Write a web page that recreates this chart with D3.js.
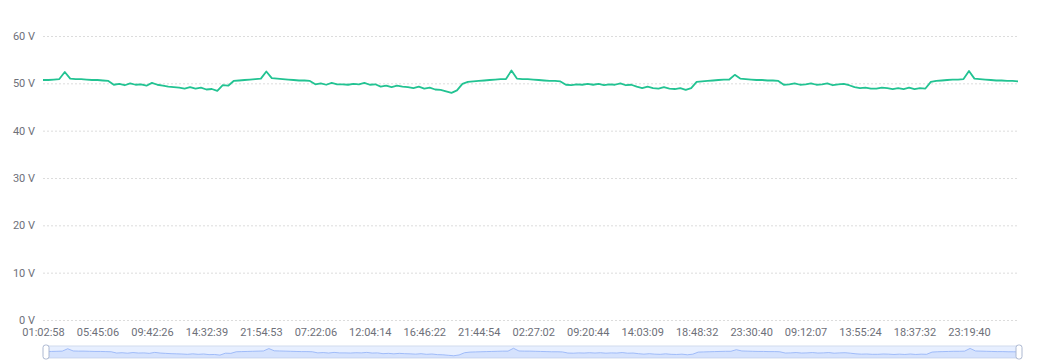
<!DOCTYPE html>
<html>
<head>
<meta charset="utf-8">
<script src="https://cdn.jsdelivr.net/npm/d3@7"></script>
<style>
  html, body { margin: 0; padding: 0; background: #fff; }
  svg { display: block; }
  text { font-family: Roboto, "Liberation Sans", sans-serif; }
</style>
</head>
<body>
<svg id="chart" width="1050" height="364"></svg>
<script>
// Voltage readings (V), one per sample
const voltage = [
  50.7, 50.7, 50.8, 50.9, 52.4, 51.0, 50.9, 50.9, 50.8, 50.7,
  50.7, 50.6, 50.5, 49.7, 49.9, 49.6, 50.0, 49.7, 49.8, 49.5,
  50.1, 49.7, 49.5, 49.3, 49.2, 49.1, 48.9, 49.2, 48.9, 49.1,
  48.7, 48.8, 48.4, 49.6, 49.5, 50.5, 50.6, 50.7, 50.8, 50.9,
  51.0, 52.5, 51.1, 51.0, 50.9, 50.8, 50.7, 50.6, 50.6, 50.5,
  49.8, 50.0, 49.7, 50.1, 49.8, 49.8, 49.7, 49.9, 49.8, 50.1,
  49.7, 49.8, 49.3, 49.5, 49.2, 49.5, 49.3, 49.2, 49.0, 49.3,
  48.9, 49.1, 48.7, 48.6, 48.3, 48.0, 48.5, 49.9, 50.3, 50.4,
  50.5, 50.6, 50.7, 50.8, 50.9, 50.9, 52.7, 51.0, 50.9, 50.9,
  50.8, 50.7, 50.6, 50.5, 50.5, 50.4, 49.7, 49.6, 49.8, 49.7,
  49.9, 49.7, 49.9, 49.6, 49.8, 49.7, 50.0, 49.6, 49.7, 49.3,
  49.0, 49.3, 49.0, 48.9, 49.2, 48.9, 48.8, 49.0, 48.6, 49.0,
  50.3, 50.4, 50.5, 50.6, 50.7, 50.8, 50.8, 51.8, 51.0, 50.9,
  50.8, 50.7, 50.7, 50.6, 50.6, 50.5, 49.7, 49.8, 50.0, 49.7,
  49.8, 50.0, 49.7, 49.8, 50.0, 49.6, 49.8, 49.9, 49.6, 49.2,
  49.0, 49.1, 48.9, 48.9, 49.1, 49.0, 48.8, 49.0, 48.8, 49.1,
  48.8, 49.0, 48.9, 50.3, 50.5, 50.6, 50.7, 50.8, 50.8, 50.9,
  52.6, 51.0, 50.9, 50.8, 50.7, 50.6, 50.6, 50.5, 50.5, 50.4
];

// Time labels shown on the x axis (every 10th sample)
const timeLabels = [
  "01:02:58", "05:45:06", "09:42:26", "14:32:39", "21:54:53", "07:22:06",
  "12:04:14", "16:46:22", "21:44:54", "02:27:02", "09:20:44", "14:03:09",
  "18:48:32", "23:30:40", "09:12:07", "13:55:24", "18:37:32", "23:19:40"
];
const labelStep = 10;

// Y axis ticks (V)
const yTicks = [0, 10, 20, 30, 40, 50, 60];

const svg = d3.select("#chart");
const L = 43, R = 1018, T = 36, B = 320;

const x = d3.scaleLinear().domain([0, voltage.length - 1]).range([L, R]);
const y = d3.scaleLinear().domain([0, 60]).range([B, T]);

const labelColor = "#6e7079";

// grid lines
svg.append("g").selectAll("line").data(yTicks).join("line")
  .attr("x1", L).attr("x2", R)
  .attr("y1", d => y(d) + 0.5).attr("y2", d => y(d) + 0.5)
  .attr("stroke", "#dcdcdc").attr("stroke-width", 1)
  .attr("stroke-dasharray", "2,2");

// y labels
const yAxis = d3.axisLeft(y).tickValues(yTicks).tickFormat(d => d + " V").tickSize(0).tickPadding(8);
const yg = svg.append("g").attr("transform", `translate(${L},0)`).call(yAxis);
yg.select(".domain").remove();
yg.selectAll("text").attr("fill", labelColor).style("font-size", "11px")
  .style("font-family", "Roboto, 'Liberation Sans', sans-serif");

// x labels
const tickIdx = timeLabels.map((_, i) => i * labelStep);
const xAxis = d3.axisBottom(x).tickValues(tickIdx)
  .tickFormat(d => timeLabels[d / labelStep]).tickSize(0).tickPadding(8);
const xg = svg.append("g").attr("transform", `translate(0,${B})`).call(xAxis);
xg.select(".domain").remove();
xg.selectAll("text").attr("fill", labelColor).style("font-size", "11px")
  .style("font-family", "Roboto, 'Liberation Sans', sans-serif");

// series line
const line = d3.line().x((d, i) => x(i)).y(d => y(d));
svg.append("path").datum(voltage)
  .attr("d", line)
  .attr("fill", "none")
  .attr("stroke", "#22c392")
  .attr("stroke-width", 1.8)
  .attr("stroke-linejoin", "round");

// data zoom slider
const sL = 46, sR = 1019, sT = 346, sH = 12;
const ext = d3.extent(voltage);
const pad = (ext[1] - ext[0]) * 0.3;
const sx = d3.scaleLinear().domain([0, voltage.length - 1]).range([sL, sR]);
const sy = d3.scaleLinear().domain([ext[0] - pad, ext[1] + pad]).range([sT + sH, sT]);

svg.append("rect")
  .attr("x", sL).attr("y", sT).attr("width", sR - sL).attr("height", sH)
  .attr("fill", "rgb(231,239,255)").attr("stroke", "#d2dbee").attr("stroke-width", 1);

const area = d3.area().x((d, i) => sx(i)).y0(sT + sH).y1(d => sy(d));
svg.append("path").datum(voltage).attr("d", area)
  .attr("fill", "#8fb0f7").attr("fill-opacity", 0.2);
svg.append("path").datum(voltage)
  .attr("d", d3.line().x((d, i) => sx(i)).y(d => sy(d)))
  .attr("fill", "none").attr("stroke", "#8fb0f7").attr("stroke-width", 0.8);

svg.append("g").selectAll("rect").data([sL, sR]).join("rect")
  .attr("x", d => d - 3).attr("y", sT - 1).attr("width", 6).attr("height", sH + 2)
  .attr("rx", 2.5).attr("ry", 2.5)
  .attr("fill", "#fff").attr("stroke", "#acb8d1").attr("stroke-width", 1);
</script>
</body>
</html>
